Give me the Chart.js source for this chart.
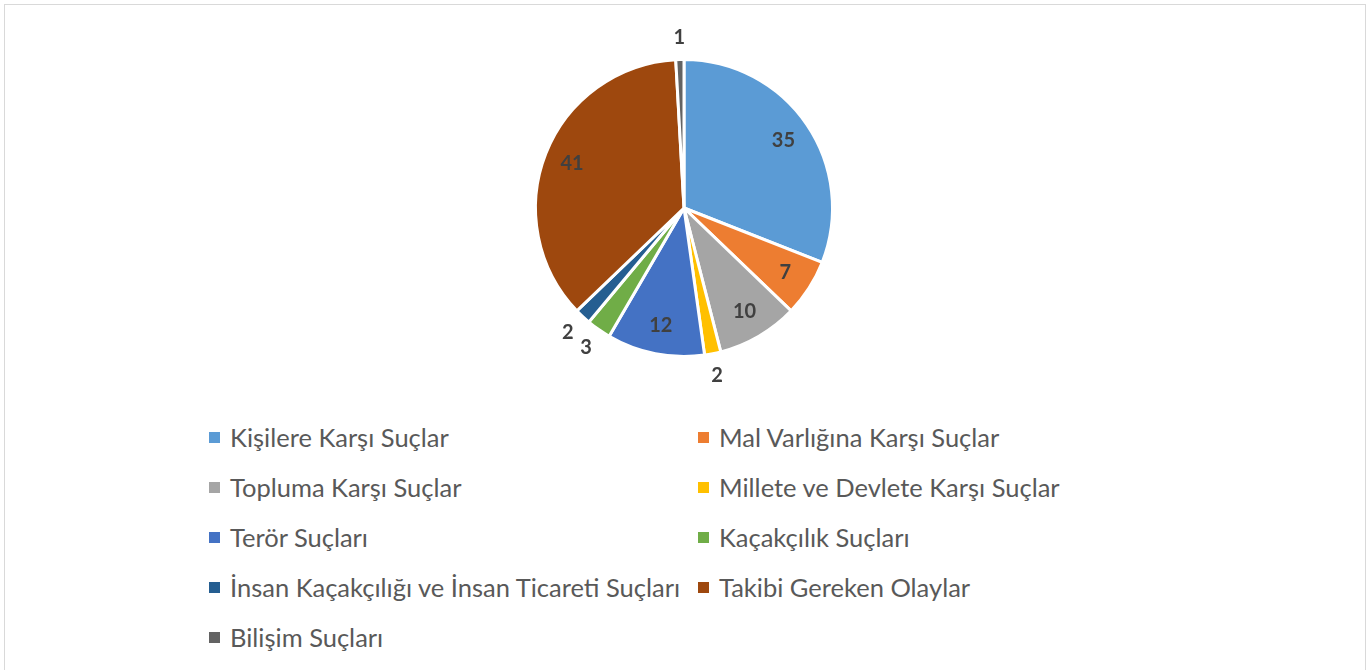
<!DOCTYPE html>
<html>
<head>
<meta charset="utf-8">
<script src="https://cdn.jsdelivr.net/npm/chart.js@4"></script>
<style>
  html, body { margin:0; padding:0; background:#fff; }
  body { width:1370px; height:670px; position:relative; overflow:hidden; font-family:Lato, "Open Sans", sans-serif; }
  .frame { position:absolute; left:4px; top:4px; width:1362px; height:700px; border:1px solid #d9d9d9; box-sizing:border-box; }
  #pieBox { position:absolute; left:484px; top:8px; width:400px; height:400px; }
  #legend { position:absolute; left:209px; top:412px; display:grid; grid-template-columns:489px 490px; grid-auto-rows:50px; }
  .lg { display:flex; align-items:center; color:#595959; font-size:25.5px; white-space:nowrap; }
  .lg i { display:inline-block; width:11px; height:11px; margin-right:10px; }
</style>
</head>
<body>
<div class="frame"></div>
<div id="pieBox"><canvas id="pie"></canvas></div>
<div id="legend"></div>
<script>
const labels = [
  'Kişilere Karşı Suçlar',
  'Mal Varlığına Karşı Suçlar',
  'Topluma Karşı Suçlar',
  'Millete ve Devlete Karşı Suçlar',
  'Terör Suçları',
  'Kaçakçılık Suçları',
  'İnsan Kaçakçılığı ve İnsan Ticareti Suçları',
  'Takibi Gereken Olaylar',
  'Bilişim Suçları'
];
const values = [35, 7, 10, 2, 12, 3, 2, 41, 1];
const colors = ['#5b9bd5','#ed7d31','#a5a5a5','#ffc000','#4472c4','#70ad47','#255e91','#9e480e','#636363'];

// small slices get their number outside the pie, like the office chart
const outsideMin = 5;

const valueLabels = {
  id: 'valueLabels',
  afterDatasetsDraw(chart) {
    const ctx = chart.ctx;
    const meta = chart.getDatasetMeta(0);
    ctx.save();
    ctx.font = 'bold 20px Lato, "Open Sans", sans-serif';
    ctx.fillStyle = '#404040';
    ctx.textAlign = 'center';
    ctx.textBaseline = 'middle';
    meta.data.forEach((arc, i) => {
      const p = arc.getProps(['x','y','startAngle','endAngle','outerRadius'], true);
      const mid = (p.startAngle + p.endAngle) / 2;
      const r = values[i] < outsideMin ? p.outerRadius + 22 : p.outerRadius * 0.81;
      ctx.fillText(String(values[i]), p.x + Math.cos(mid) * r, p.y + Math.sin(mid) * r);
    });
    ctx.restore();
  }
};

new Chart(document.getElementById('pie'), {
  type: 'pie',
  data: {
    labels: labels,
    datasets: [{ data: values, backgroundColor: colors, borderColor: '#fff', borderWidth: 3 }]
  },
  options: {
    responsive: true, maintainAspectRatio: false, animation: false,
    layout: { padding: 50 },
    plugins: { legend: { display: false }, tooltip: { enabled: false } }
  },
  plugins: [valueLabels]
});

// legend in two columns, row by row
document.getElementById('legend').innerHTML = labels.map((l, i) =>
  `<div class="lg"><i style="background:${colors[i]}"></i>${l}</div>`).join('');
</script>
</body>
</html>
